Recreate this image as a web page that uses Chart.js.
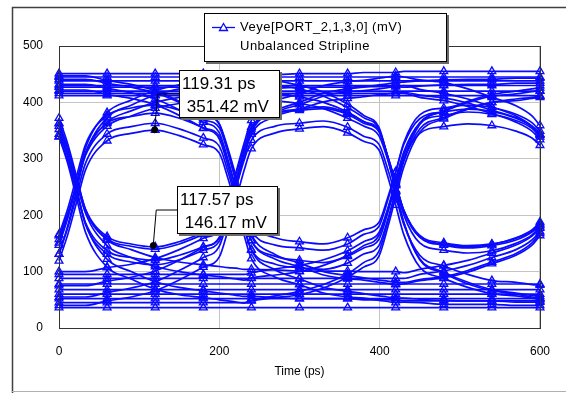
<!DOCTYPE html>
<html>
<head>
<meta charset="utf-8">
<script src="https://cdn.jsdelivr.net/npm/chart.js@4.4.1/dist/chart.umd.min.js"></script>
<style>
  html, body { margin: 0; padding: 0; background: #ffffff; }
  canvas { display: block; }
</style>
</head>
<body>
<canvas id="eye" width="566" height="393"></canvas>
<script>
// Sample times shared by every trace (ps)
const timePs = [0, 11, 22, 33, 60, 90, 120, 150, 180, 200, 211, 221, 231, 240, 270, 300, 330, 360, 380, 399, 410, 420, 430, 450, 480, 510, 540, 570, 590, 600];

// Eye traces (mV), one per captured bit window
const trace01 = [36, 36, 36, 36, 36, 36, 36, 36, 36, 36, 36, 36, 36, 36, 36, 36, 36, 36, 36, 36, 36, 36, 36, 36, 36, 36, 36, 36, 36, 36];
const trace02 = [88, 88, 88, 88, 88, 88, 88, 88, 88, 88, 88, 88, 88, 88, 88, 88, 88, 88, 88, 88, 88, 88, 88, 95, 101, 111, 125, 139, 156, 171];
const trace03 = [45, 45, 45, 45, 45, 45, 45, 45, 45, 45, 45, 45, 45, 49, 57, 65, 77, 96, 116, 136, 187, 243, 298, 361, 385, 402, 414, 420, 424, 426];
const trace04 = [95, 95, 95, 95, 95, 95, 95, 95, 95, 95, 95, 95, 95, 98, 105, 111, 121, 137, 153, 169, 210, 255, 300, 345, 357, 362, 359, 349, 337, 324];
const trace05 = [40, 40, 40, 40, 48, 55, 66, 85, 108, 126, 175, 228, 280, 318, 346, 353, 357, 346, 331, 316, 269, 218, 166, 108, 88, 72, 61, 57, 53, 51];
const trace06 = [75, 75, 75, 75, 83, 90, 101, 120, 143, 161, 210, 263, 315, 353, 381, 388, 392, 381, 366, 351, 304, 253, 201, 151, 138, 133, 137, 150, 165, 180];
const trace07 = [55, 55, 55, 55, 63, 71, 82, 102, 125, 145, 195, 250, 305, 348, 385, 400, 416, 424, 427, 431, 433, 435, 436, 438, 440, 441, 441, 443, 443, 443];
const trace08 = [100, 100, 100, 100, 107, 113, 123, 139, 159, 175, 217, 263, 308, 344, 375, 388, 401, 407, 410, 414, 415, 417, 418, 413, 408, 399, 386, 373, 357, 342];
const trace09 = [119, 166, 223, 280, 332, 345, 351, 341, 325, 310, 264, 214, 164, 123, 90, 77, 62, 55, 53, 49, 47, 45, 46, 45, 42, 42, 42, 40, 40, 40];
const trace10 = [151, 197, 254, 311, 363, 375, 381, 372, 355, 340, 294, 245, 195, 155, 122, 109, 94, 87, 85, 81, 79, 77, 78, 84, 89, 99, 114, 129, 147, 164];
const trace11 = [131, 178, 235, 292, 344, 357, 363, 353, 337, 322, 276, 226, 176, 139, 113, 107, 104, 115, 131, 146, 192, 242, 295, 353, 373, 389, 400, 403, 407, 409];
const trace12 = [166, 212, 269, 325, 377, 390, 395, 386, 369, 355, 309, 259, 210, 173, 147, 142, 138, 149, 166, 180, 226, 276, 328, 378, 390, 395, 391, 379, 364, 349];
const trace13 = [131, 182, 245, 308, 373, 395, 413, 424, 430, 434, 436, 438, 440, 436, 430, 424, 411, 391, 373, 353, 300, 243, 188, 123, 99, 81, 68, 62, 58, 56];
const trace14 = [164, 204, 255, 306, 358, 376, 390, 398, 403, 407, 408, 410, 411, 408, 403, 398, 389, 372, 358, 341, 299, 253, 209, 164, 151, 146, 149, 159, 172, 185];
const trace15 = [147, 196, 258, 319, 382, 404, 421, 431, 437, 441, 443, 445, 447, 447, 449, 451, 451, 451, 453, 453, 453, 453, 455, 455, 455, 455, 455, 455, 455, 455];
const trace16 = [157, 201, 255, 309, 365, 385, 400, 409, 414, 418, 420, 421, 423, 423, 425, 427, 427, 427, 428, 428, 428, 428, 430, 423, 416, 406, 392, 376, 358, 343];
const trace17 = [358, 309, 247, 185, 122, 100, 82, 72, 66, 62, 60, 58, 56, 56, 54, 52, 52, 52, 50, 50, 50, 50, 48, 48, 48, 48, 48, 48, 48, 48];
const trace18 = [344, 305, 256, 207, 156, 139, 125, 117, 112, 109, 107, 106, 104, 104, 103, 101, 101, 101, 100, 100, 100, 100, 98, 104, 111, 120, 133, 147, 163, 177];
const trace19 = [339, 291, 230, 170, 108, 87, 69, 59, 54, 50, 48, 46, 44, 48, 54, 59, 71, 90, 108, 127, 178, 232, 285, 347, 371, 388, 400, 406, 409, 411];
const trace20 = [363, 317, 260, 204, 146, 125, 109, 100, 94, 91, 89, 87, 85, 89, 94, 100, 111, 129, 146, 164, 211, 262, 312, 363, 377, 383, 379, 368, 354, 339];
const trace21 = [340, 296, 241, 187, 137, 125, 120, 129, 144, 159, 203, 250, 298, 333, 358, 363, 367, 356, 340, 326, 282, 234, 184, 129, 110, 95, 84, 81, 77, 76];
const trace22 = [363, 319, 265, 211, 162, 149, 144, 153, 169, 183, 226, 274, 321, 356, 380, 386, 389, 379, 363, 349, 305, 258, 208, 161, 149, 144, 148, 160, 174, 188];
const trace23 = [352, 304, 244, 184, 131, 117, 112, 121, 138, 154, 202, 254, 305, 348, 382, 396, 411, 419, 421, 424, 426, 428, 427, 429, 431, 432, 432, 434, 434, 434];
const trace24 = [372, 326, 268, 210, 158, 145, 140, 149, 166, 181, 227, 277, 328, 368, 402, 415, 430, 437, 439, 443, 445, 447, 445, 440, 435, 424, 409, 394, 376, 359];
const trace25 = [422, 422, 422, 422, 414, 407, 396, 377, 354, 335, 286, 233, 180, 138, 103, 87, 72, 65, 61, 57, 55, 53, 53, 51, 49, 48, 48, 46, 46, 46];
const trace26 = [447, 447, 447, 447, 439, 432, 421, 402, 379, 361, 312, 259, 207, 166, 130, 115, 100, 93, 89, 85, 83, 81, 81, 86, 91, 102, 117, 132, 151, 168];
const trace27 = [432, 432, 432, 432, 425, 417, 406, 387, 365, 346, 297, 245, 193, 155, 127, 120, 116, 127, 142, 157, 204, 254, 306, 364, 384, 400, 411, 415, 419, 421];
const trace28 = [441, 441, 441, 441, 434, 427, 417, 400, 379, 362, 317, 268, 220, 186, 160, 153, 149, 160, 174, 187, 231, 277, 325, 371, 383, 388, 384, 372, 358, 344];
const trace29 = [451, 451, 451, 451, 451, 451, 451, 451, 451, 451, 451, 451, 451, 447, 439, 430, 418, 397, 377, 356, 303, 245, 187, 121, 97, 78, 66, 60, 55, 53];
const trace30 = [427, 427, 427, 427, 427, 427, 427, 427, 427, 427, 427, 427, 427, 424, 417, 410, 400, 383, 366, 349, 304, 256, 209, 161, 147, 142, 146, 156, 170, 183];
const trace31 = [445, 445, 445, 445, 445, 445, 445, 445, 445, 445, 445, 445, 445, 445, 445, 445, 445, 445, 445, 445, 445, 445, 445, 445, 445, 445, 445, 445, 445, 445];
const trace32 = [416, 416, 416, 416, 416, 416, 416, 416, 416, 416, 416, 416, 416, 416, 416, 416, 416, 416, 416, 416, 416, 416, 416, 409, 403, 393, 380, 365, 349, 334];
const trace33 = [68, 68, 68, 68, 68, 68, 68, 68, 68, 68, 68, 68, 68, 68, 68, 68, 68, 68, 68, 68, 68, 68, 68, 68, 68, 68, 68, 68, 68, 68];
const trace34 = [52, 52, 52, 52, 52, 52, 52, 52, 52, 52, 52, 52, 52, 52, 52, 52, 52, 52, 52, 52, 52, 52, 52, 52, 52, 52, 52, 52, 52, 52];
const trace35 = [430, 430, 430, 430, 430, 430, 430, 430, 430, 430, 430, 430, 430, 430, 430, 430, 430, 430, 430, 430, 430, 430, 430, 430, 430, 430, 430, 430, 430, 430];
const trace36 = [412, 412, 412, 412, 412, 412, 412, 412, 412, 412, 412, 412, 412, 412, 412, 412, 412, 412, 412, 412, 412, 412, 412, 412, 412, 412, 412, 412, 412, 412];
const trace37 = [78, 78, 78, 78, 78, 78, 78, 78, 78, 78, 78, 78, 78, 78, 78, 78, 78, 78, 78, 78, 78, 78, 78, 78, 78, 78, 78, 78, 78, 78];
const trace38 = [60, 60, 60, 60, 60, 60, 60, 60, 60, 60, 60, 60, 60, 60, 60, 60, 60, 60, 60, 60, 60, 60, 60, 60, 60, 60, 60, 60, 60, 60];
const trace39 = [438, 438, 438, 438, 438, 438, 438, 438, 438, 438, 438, 438, 438, 438, 438, 438, 438, 438, 438, 438, 438, 438, 438, 438, 438, 438, 438, 438, 438, 438];
const trace40 = [420, 420, 420, 420, 420, 420, 420, 420, 420, 420, 420, 420, 420, 420, 420, 420, 420, 420, 420, 420, 420, 420, 420, 420, 420, 420, 420, 420, 420, 420];

const traces = [trace01, trace02, trace03, trace04, trace05, trace06, trace07, trace08, trace09,
  trace10, trace11, trace12, trace13, trace14, trace15, trace16, trace17, trace18, trace19,
  trace20, trace21, trace22, trace23, trace24, trace25, trace26, trace27, trace28, trace29,
  trace30, trace31, trace32, trace33, trace34, trace35, trace36, trace37, trace38, trace39, trace40];

// Axis ticks
const timeTicks = [0, 200, 400, 600];
const voltTicks = [0, 100, 200, 300, 400, 500];

// Eye-height cursors
const cursorTimes = [119.31, 117.57];
const cursorLevels = [351.42, 146.17];

const seriesName = 'Veye[PORT_2,1,3,0] (mV)';
const seriesNote = 'Unbalanced Stripline';
const timeTitle = 'Time (ps)';

const TRACE_BLUE = '#0a0aff';
const FONT = '"Liberation Sans", Arial, sans-serif';
const MARKER_EVERY = 60;

const traceSets = traces.map((vals, k) => ({
  label: k === 0 ? seriesName : '',
  data: vals.map((v, i) => ({ x: timePs[i], y: v })),
  borderColor: TRACE_BLUE,
  borderWidth: 1.7,
  backgroundColor: 'rgba(0,0,0,0)',
  pointStyle: 'triangle',
  pointBorderColor: TRACE_BLUE,
  pointBackgroundColor: 'rgba(255,255,255,0)',
  pointBorderWidth: 1.3,
  pointRadius: ctx => (ctx.parsed && ctx.parsed.x % MARKER_EVERY === 0 ? 4.5 : 0),
  cubicInterpolationMode: 'monotone',
  fill: false,
  clip: 6,
  order: 1
}));

const cursorSet = {
  type: 'scatter',
  label: 'cursor',
  data: cursorTimes.map((t, i) => ({ x: t, y: cursorLevels[i] })),
  showLine: false,
  pointStyle: 'circle',
  pointRadius: 3,
  pointBackgroundColor: '#000000',
  pointBorderColor: '#000000',
  order: 0
};

function shadowBox(ctx, x, y, w, h) {
  ctx.fillStyle = '#6a6a6a';
  ctx.fillRect(x + 2, y + 2, w, h);
  ctx.fillStyle = '#ffffff';
  ctx.fillRect(x, y, w, h);
  ctx.strokeStyle = '#000000';
  ctx.lineWidth = 1;
  ctx.strokeRect(x + 0.5, y + 0.5, w - 1, h - 1);
}

const decorations = {
  id: 'decorations',
  afterDatasetsDraw(chart) {
    const { ctx, chartArea: a, scales } = chart;
    const xs = scales.x, ys = scales.y;
    ctx.save();

    // plot frame
    ctx.strokeStyle = '#333333';
    ctx.lineWidth = 1;
    ctx.strokeRect(a.left + 0.5, a.top + 0.5, a.right - a.left, a.bottom - a.top);

    // outer panel edge
    ctx.strokeStyle = '#404040';
    ctx.lineWidth = 1.5;
    ctx.beginPath();
    ctx.moveTo(12.5, 393);
    ctx.lineTo(12.5, 7.5);
    ctx.lineTo(566, 7.5);
    ctx.stroke();
    ctx.strokeStyle = '#b0b0b0';
    ctx.lineWidth = 1;
    ctx.beginPath();
    ctx.moveTo(12, 391.5);
    ctx.lineTo(566, 391.5);
    ctx.stroke();

    // x axis title
    ctx.fillStyle = '#000000';
    ctx.font = '12px ' + FONT;
    ctx.textAlign = 'center';
    ctx.textBaseline = 'middle';
    ctx.fillText(timeTitle, (a.left + a.right) / 2, 372);

    // cursor read-outs
    cursorTimes.forEach((t, i) => {
      const px = xs.getPixelForValue(t);
      const py = ys.getPixelForValue(cursorLevels[i]);
      const bx = Math.round(px + 24), by = Math.round(py - 60);
      ctx.strokeStyle = '#000000';
      ctx.lineWidth = 1;
      ctx.beginPath();
      ctx.moveTo(px, py);
      ctx.lineTo(px + 3, by + 24);
      ctx.lineTo(bx, by + 24);
      ctx.stroke();
      shadowBox(ctx, bx, by, 101, 48);
      ctx.fillStyle = '#000000';
      ctx.font = '17px ' + FONT;
      ctx.textAlign = 'left';
      ctx.textBaseline = 'middle';
      ctx.fillText(t.toFixed(2) + ' ps', bx + 3, by + 14);
      ctx.fillText(' ' + cursorLevels[i].toFixed(2) + ' mV', bx + 3, by + 37);
    });

    // legend
    shadowBox(ctx, 204, 13, 243, 49);
    ctx.strokeStyle = TRACE_BLUE;
    ctx.lineWidth = 1.3;
    ctx.beginPath();
    ctx.moveTo(212, 27.5);
    ctx.lineTo(235, 27.5);
    ctx.stroke();
    ctx.beginPath();
    ctx.moveTo(223.5, 23.5);
    ctx.lineTo(227.5, 30.5);
    ctx.lineTo(219.5, 30.5);
    ctx.closePath();
    ctx.fillStyle = '#ffffff';
    ctx.fill();
    ctx.stroke();
    ctx.fillStyle = '#000000';
    ctx.font = '13px ' + FONT;
    if ('letterSpacing' in ctx) ctx.letterSpacing = '0.5px';
    ctx.textAlign = 'left';
    ctx.textBaseline = 'middle';
    ctx.fillText(seriesName, 240, 27);
    ctx.fillText(seriesNote, 240, 46);

    ctx.restore();
  }
};

new Chart(document.getElementById('eye'), {
  type: 'line',
  data: { datasets: [cursorSet, ...traceSets] },
  options: {
    responsive: false,
    animation: false,
    devicePixelRatio: 1,
    layout: { padding: { top: 46, right: 12, left: 0, bottom: 0 } },
    plugins: { legend: { display: false }, tooltip: { enabled: false } },
    scales: {
      x: {
        type: 'linear',
        min: 0,
        max: 600,
        afterBuildTicks: s => { s.ticks = timeTicks.map(v => ({ value: v })); },
        afterFit: s => { s.height = 65; },
        ticks: { color: '#000000', font: { family: FONT, size: 12 }, padding: 16, maxRotation: 0 },
        grid: { color: '#c4c4c4', lineWidth: 1, drawTicks: false },
        border: { display: false }
      },
      y: {
        type: 'linear',
        min: 0,
        max: 500,
        afterBuildTicks: s => { s.ticks = voltTicks.map(v => ({ value: v })); },
        afterFit: s => { s.width = 59; },
        ticks: { color: '#000000', font: { family: FONT, size: 12 }, padding: 16 },
        grid: { color: '#c4c4c4', lineWidth: 1, drawTicks: false },
        border: { display: false }
      }
    }
  },
  plugins: [decorations]
});
</script>
</body>
</html>
